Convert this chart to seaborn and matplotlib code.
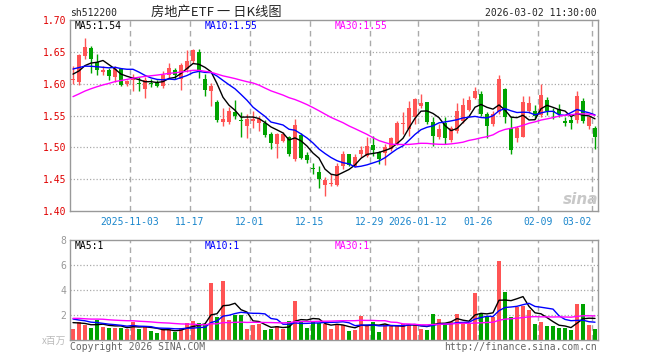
import numpy as np
import pandas as pd
import matplotlib
matplotlib.use('Agg')
import matplotlib.pyplot as plt
import seaborn as sns

# daily K-line values (2025-10-20 .. 2026-03-02)
open_ = [1.605, 1.603, 1.644, 1.656, 1.634, 1.619, 1.621, 1.611, 1.623, 1.599,
         1.606, 1.601, 1.592, 1.601, 1.602, 1.596, 1.613, 1.621, 1.607, 1.623,
         1.635, 1.649, 1.607, 1.588, 1.571, 1.540, 1.540, 1.555, 1.543, 1.534,
         1.541, 1.539, 1.539, 1.521, 1.505, 1.510, 1.516, 1.482, 1.519, 1.488,
         1.467, 1.462, 1.441, 1.443, 1.441, 1.471, 1.489, 1.471, 1.490, 1.487,
         1.504, 1.492, 1.491, 1.497, 1.506, 1.537, 1.529, 1.547, 1.565, 1.571,
         1.540, 1.516, 1.539, 1.512, 1.526, 1.542, 1.558, 1.578, 1.583, 1.552,
         1.536, 1.555, 1.591, 1.531, 1.515, 1.517, 1.557, 1.557, 1.551, 1.574,
         1.557, 1.560, 1.542, 1.543, 1.543, 1.573, 1.534, 1.531]
high = [1.627, 1.647, 1.671, 1.659, 1.647, 1.627, 1.625, 1.627, 1.624, 1.606,
        1.615, 1.611, 1.610, 1.608, 1.605, 1.620, 1.632, 1.624, 1.632, 1.653,
        1.654, 1.655, 1.615, 1.601, 1.574, 1.561, 1.563, 1.574, 1.555, 1.552,
        1.557, 1.549, 1.543, 1.524, 1.523, 1.524, 1.518, 1.544, 1.522, 1.492,
        1.476, 1.470, 1.453, 1.458, 1.476, 1.495, 1.490, 1.490, 1.502, 1.516,
        1.518, 1.495, 1.505, 1.517, 1.542, 1.556, 1.573, 1.578, 1.584, 1.571,
        1.547, 1.536, 1.547, 1.534, 1.570, 1.577, 1.580, 1.594, 1.589, 1.555,
        1.557, 1.614, 1.593, 1.549, 1.534, 1.580, 1.581, 1.566, 1.599, 1.579,
        1.561, 1.568, 1.547, 1.549, 1.589, 1.578, 1.547, 1.534]
low = [1.599, 1.598, 1.638, 1.617, 1.614, 1.614, 1.606, 1.603, 1.596, 1.596,
       1.588, 1.588, 1.577, 1.595, 1.595, 1.593, 1.609, 1.607, 1.590, 1.619,
       1.633, 1.609, 1.581, 1.565, 1.540, 1.534, 1.536, 1.544, 1.517, 1.515,
       1.531, 1.526, 1.517, 1.497, 1.483, 1.508, 1.487, 1.478, 1.482, 1.476,
       1.458, 1.436, 1.423, 1.440, 1.439, 1.466, 1.471, 1.469, 1.485, 1.485,
       1.487, 1.474, 1.472, 1.495, 1.504, 1.521, 1.518, 1.536, 1.562, 1.536,
       1.502, 1.513, 1.505, 1.508, 1.523, 1.539, 1.557, 1.576, 1.549, 1.515,
       1.534, 1.552, 1.538, 1.490, 1.508, 1.516, 1.554, 1.544, 1.547, 1.551,
       1.544, 1.547, 1.534, 1.529, 1.539, 1.539, 1.529, 1.497]
close = [1.607, 1.645, 1.657, 1.638, 1.621, 1.621, 1.612, 1.623, 1.598, 1.604,
         1.607, 1.600, 1.606, 1.599, 1.597, 1.614, 1.625, 1.614, 1.630, 1.636,
         1.653, 1.619, 1.590, 1.596, 1.543, 1.545, 1.557, 1.550, 1.542, 1.544,
         1.545, 1.545, 1.519, 1.507, 1.521, 1.521, 1.490, 1.535, 1.484, 1.480,
         1.466, 1.450, 1.449, 1.444, 1.471, 1.489, 1.473, 1.485, 1.496, 1.502,
         1.496, 1.481, 1.500, 1.514, 1.538, 1.538, 1.562, 1.576, 1.570, 1.540,
         1.518, 1.529, 1.514, 1.530, 1.557, 1.566, 1.574, 1.588, 1.552, 1.534,
         1.552, 1.607, 1.548, 1.496, 1.530, 1.571, 1.570, 1.550, 1.582, 1.557,
         1.555, 1.552, 1.539, 1.539, 1.580, 1.542, 1.547, 1.516]
volume = [0.88, 1.47, 1.20, 0.99, 1.60, 1.07, 0.99, 0.99, 0.99, 0.88,
          1.47, 0.88, 1.07, 0.72, 0.56, 0.88, 0.88, 0.64, 0.99, 1.36,
          1.52, 1.36, 1.23, 4.56, 1.84, 4.72, 1.57, 2.00, 2.00, 0.88,
          1.20, 1.31, 0.80, 0.88, 1.12, 0.88, 1.52, 3.12, 1.52, 0.96,
          1.47, 1.36, 1.28, 0.88, 1.28, 1.20, 0.72, 0.80, 1.92, 1.12,
          1.47, 0.64, 1.28, 1.20, 1.12, 1.28, 1.20, 1.20, 0.88, 0.80,
          2.08, 1.68, 1.28, 1.44, 2.08, 1.44, 1.30, 3.76, 2.08, 1.87,
          1.87, 6.32, 3.84, 1.84, 2.64, 2.72, 2.40, 1.28, 1.44, 1.12,
          1.12, 0.96, 0.96, 0.80, 2.88, 2.88, 1.20, 0.88]

# sessions before the visible window, estimated so the moving averages start where they do
prior_close = [1.515, 1.522, 1.530, 1.526, 1.535, 1.541, 1.538, 1.547, 1.552, 1.549,
               1.558, 1.563, 1.570, 1.566, 1.575, 1.582, 1.588, 1.594, 1.600, 1.607,
               1.622, 1.635, 1.640, 1.628, 1.630, 1.620, 1.615, 1.618, 1.615]
prior_volume = [1.5, 2.1, 1.8, 1.6, 1.4, 2.3, 1.9, 1.7, 1.5, 1.6,
                2.0, 1.8, 1.6, 1.9, 1.7, 1.5, 1.8, 1.9, 1.7, 1.8,
                2.3, 1.8, 2.1, 1.9, 1.75, 1.6, 1.4, 1.5, 1.57]

date_ticks = [10, 20, 30, 40, 50, 58, 68, 78, 87]
date_labels = ['2025-11-03', '11-17', '12-01', '12-15', '12-29',
               '2026-01-12', '01-26', '02-09', '03-02']
price_ticks = [1.40, 1.45, 1.50, 1.55, 1.60, 1.65, 1.70]
vol_ticks = [2, 4, 6, 8]

RED = '#FF5454'
GREEN = '#00A300'
GRID = '#AAAAAA'
MA_COLORS = {5: 'black', 10: '#0000FF', 30: '#FF00FF'}

sns.set_style('white')
plt.rcParams['font.family'] = ['DejaVu Sans Mono', 'Noto Sans CJK SC']

n = len(close)
df = pd.DataFrame({'x': np.arange(n), 'open': open_, 'high': high,
                   'low': low, 'close': close, 'volume': volume})
up = df['close'] >= df['open']
colors = np.where(up, RED, GREEN)

full_close = pd.Series(prior_close + close)
full_vol = pd.Series(prior_volume + volume)
for w in (5, 10, 30):
    df[f'ma{w}'] = full_close.rolling(w).mean().iloc[len(prior_close):].values
    df[f'vma{w}'] = full_vol.rolling(w).mean().iloc[len(prior_volume):].values

W, H = 660, 360
fig = plt.figure(figsize=(W / 100, H / 100), dpi=100)
ax = fig.add_axes([70 / W, 1 - 211 / H, 528 / W, 191 / H])
axv = fig.add_axes([70 / W, 1 - 340 / H, 528 / W, 100 / H])


def px(x, y):
    return x / W, 1 - y / H


for a in (ax, axv):
    a.set_xlim(-0.5, n - 0.5)
    for s in a.spines.values():
        s.set_color('#999999')
        s.set_linewidth(1)
    for t in date_ticks:
        a.axvline(t - 0.5, color=GRID, lw=1, ls=(0, (4, 3)), zorder=0)

# price panel
ax.set_ylim(1.40, 1.70)
for p in price_ticks[1:-1]:
    ax.axhline(p, color=GRID, lw=0.9, ls=(0, (1, 1.6)), zorder=0)
body = np.maximum((df['close'] - df['open']).abs(), 0.0012)
ax.vlines(df['x'], df['low'], df['high'], colors=colors, lw=1, zorder=2)
ax.bar(df['x'], body, bottom=np.minimum(df['open'], df['close']),
       width=0.74, color=colors, linewidth=0, zorder=3)
for w, c in MA_COLORS.items():
    sns.lineplot(data=df, x='x', y=f'ma{w}', ax=ax, color=c, lw=1, zorder=4)
ax.set_yticks(price_ticks)
ax.set_yticklabels([f'{p:.2f}' for p in price_ticks])
ax.set_xticks([t - 0.5 for t in date_ticks])
ax.set_xticklabels(date_labels)
ax.get_xticklabels()[-1].set_ha('right')
ax.tick_params(axis='y', length=0, pad=2.5, labelsize=7, labelcolor='#E00000')
ax.tick_params(axis='x', length=0, pad=4, labelsize=7, labelcolor='#1A86CC')
ax.set_xlabel('')
ax.set_ylabel('')

# volume panel
axv.set_ylim(0, 8)
for v in vol_ticks[:-1]:
    axv.axhline(v, color=GRID, lw=0.9, ls=(0, (1, 1.6)), zorder=0)
axv.bar(df['x'], df['volume'], width=0.8, color=colors, linewidth=0, zorder=2)
for w, c in MA_COLORS.items():
    sns.lineplot(data=df, x='x', y=f'vma{w}', ax=axv, color=c, lw=1, zorder=3)
axv.set_yticks(vol_ticks)
axv.set_xticks([])
axv.tick_params(axis='y', length=0, pad=2.5, labelsize=7, labelcolor='#999999')
axv.set_xlabel('')
axv.set_ylabel('')

# header and legends
fig.text(*px(70, 13), 'sh512200', fontsize=7, va='center', ha='left')
fig.text(*px(216, 12), '房地产ETF 一 日K线图', fontsize=9.5, va='center', ha='center',
         family=['Noto Sans CJK SC', 'DejaVu Sans'])
fig.text(*px(597, 13), '2026-03-02 11:30:00', fontsize=7, va='center', ha='right')
for x0, txt, c in [(75, 'MA5:1.54', 'black'), (205, 'MA10:1.55', '#0000FF'),
                   (335, 'MA30:1.55', '#FF00FF')]:
    fig.text(*px(x0, 26), txt, fontsize=7, color=c, va='center', ha='left')
for x0, txt, c in [(75, 'MA5:1', 'black'), (205, 'MA10:1', '#0000FF'),
                   (335, 'MA30:1', '#FF00FF')]:
    fig.text(*px(x0, 246), txt, fontsize=7, color=c, va='center', ha='left')

fig.text(*px(66, 341), 'x百万', fontsize=7, color='#BBBBBB', va='center', ha='right',
         family=['Noto Sans CJK SC', 'DejaVu Sans'])
fig.text(*px(70, 347), 'Copyright 2026 SINA.COM', fontsize=7, color='#666666',
         va='center', ha='left')
fig.text(*px(597, 347), 'http://finance.sina.com.cn', fontsize=7, color='#666666',
         va='center', ha='right')
fig.text(*px(581, 200), 'sina', fontsize=11, color='#C8C8C8', style='italic',
         weight='bold', family='DejaVu Sans', va='center', ha='center')

fig.savefig('out.png', dpi=100)
